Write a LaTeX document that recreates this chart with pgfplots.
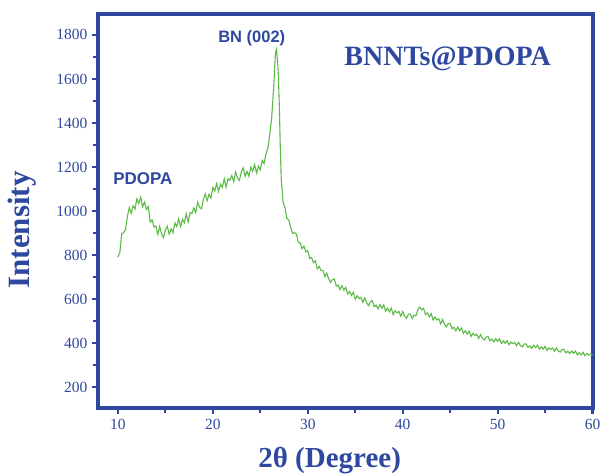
\documentclass[border=0pt]{standalone}
\usepackage{pgfplots}
\pgfplotsset{compat=1.18}
\usepackage{fontspec}
\setmainfont{Liberation Serif}
\newfontfamily\arialfont{Liberation Sans}
\definecolor{axblue}{RGB}{46,72,160}
\definecolor{xrdgreen}{RGB}{92,186,70}
\pgfplotstableread{
x y
10.0 790
10.2 812
10.4 897
10.6 901
10.8 916
11.0 976
11.2 1016
11.4 990
11.6 1024
11.8 1009
12.0 1055
12.2 1034
12.4 1063
12.6 1019
12.8 1040
13.0 1007
13.2 1020
13.4 950
13.6 960
13.8 927
14.0 932
14.2 894
14.4 930
14.6 896
14.8 879
15.0 914
15.2 931
15.4 895
15.6 919
15.8 901
16.0 945
16.2 929
16.4 965
16.6 929
16.8 962
17.0 947
17.2 987
17.4 950
17.6 993
17.8 989
18.0 1014
18.2 992
18.4 1040
18.6 1017
18.8 1010
19.0 1053
19.2 1078
19.4 1047
19.6 1076
19.8 1059
20.0 1107
20.2 1090
20.4 1125
20.6 1089
20.8 1122
21.0 1107
21.2 1146
21.4 1107
21.6 1147
21.8 1139
22.0 1161
22.2 1133
22.4 1177
22.6 1150
22.8 1139
23.0 1178
23.2 1196
23.4 1158
23.6 1180
23.8 1158
24.0 1199
24.2 1179
24.4 1211
24.6 1173
24.8 1204
25.0 1187
25.2 1230
25.4 1215
25.6 1260
25.8 1285
26.0 1350
26.2 1425
26.4 1555
26.5 1640
26.6 1720
26.7 1735
26.8 1690
26.9 1620
27.0 1480
27.1 1300
27.2 1150
27.4 1040
27.6 1015
27.8 967
28.0 959
28.2 925
28.4 898
28.6 902
28.8 896
29.0 857
29.2 855
29.4 828
29.6 840
29.8 814
30.0 820
30.2 784
30.4 789
30.6 765
30.8 774
31.0 737
31.2 748
31.4 730
31.6 730
31.8 702
32.0 718
32.2 692
32.4 675
32.6 689
32.8 691
33.0 659
33.2 664
33.4 643
33.6 660
33.8 640
34.0 653
34.2 623
34.4 634
34.6 616
34.8 631
35.0 599
35.2 615
35.4 602
35.6 608
35.8 585
36.0 605
36.2 583
36.4 570
36.6 587
36.8 593
37.0 565
37.2 573
37.4 555
37.6 575
37.8 558
38.0 573
38.2 545
38.4 558
38.6 542
38.8 559
39.0 529
39.2 547
39.4 537
39.6 544
39.8 522
40.0 543
40.2 523
40.4 512
40.6 531
40.8 532
41.0 512
41.2 527
41.4 524
41.6 552
41.8 564
42.0 551
42.2 558
42.4 529
42.6 537
42.8 519
43.0 534
43.2 505
43.4 518
43.6 505
43.8 510
44.0 487
44.2 507
44.4 485
44.6 474
44.8 489
45.0 488
45.2 465
45.4 472
45.6 455
45.8 473
46.0 456
46.2 469
46.4 444
46.6 456
46.8 441
47.0 454
47.2 430
47.4 444
47.6 434
47.8 440
48.0 421
48.2 438
48.4 422
48.6 414
48.8 428
49.0 429
49.2 410
49.4 418
49.6 405
49.8 420
50.0 407
50.2 419
50.4 398
50.6 410
50.8 399
51.0 411
51.2 392
51.4 404
51.6 397
51.8 403
52.0 388
52.2 403
52.4 389
52.6 382
52.8 396
53.0 396
53.2 380
53.4 387
53.6 376
53.8 390
54.0 379
54.2 390
54.4 372
54.6 383
54.8 372
55.0 385
55.2 367
55.4 378
55.6 371
55.8 378
56.0 363
56.2 378
56.4 364
56.6 359
56.8 371
57.0 371
57.2 355
57.4 363
57.6 352
57.8 364
58.0 354
58.2 364
58.4 346
58.6 357
58.8 346
59.0 358
59.2 342
59.4 353
59.6 346
59.8 351
60.0 345
}\xrd
\begin{document}
\begin{tikzpicture}
\begin{axis}[
  scale only axis,
  width=495pt, height=394pt,
  xmin=7.9, xmax=60.05, ymin=105, ymax=1895,
  xtick={10,20,30,40,50,60},
  ytick={200,400,600,800,1000,1200,1400,1600,1800},
  minor x tick num=1, minor y tick num=1,
  xtick pos=bottom, ytick pos=left,
  tick align=outside,
  major tick length=6pt, minor tick length=5pt,
  every tick/.style={axblue, line width=2.2pt},
  axis line style={axblue, line width=3.2pt},
  tick label style={axblue, font=\fontsize{15.5}{17}\selectfont},
  /pgf/number format/assume math mode=true,
  /pgf/number format/1000 sep={},
  yticklabel style={xshift=-1pt},
  xticklabel style={yshift=-2pt},
  clip=false,
]
\addplot[xrdgreen, line width=1.1pt] table[x=x,y=y] {\xrd};
\node[axblue, font=\arialfont\bfseries\fontsize{17}{20}\selectfont] at (axis cs:12.63,1145) {PDOPA};
\node[axblue, font=\arialfont\bfseries\fontsize{16.5}{20}\selectfont] at (axis cs:24.1,1786) {BN (002)};
\node[axblue, font=\bfseries\fontsize{28}{32}\selectfont] at (axis cs:44.74,1690) {BNNTs@PDOPA};
\node[axblue, font=\bfseries\fontsize{29}{32}\selectfont] at (axis cs:32.3,-132) {2θ (Degree)};
\node[axblue, font=\bfseries\fontsize{31}{34}\selectfont, rotate=90] at (axis cs:-0.1,914) {Intensity};
\end{axis}
\pgfresetboundingbox
\path ([shift={(-98pt,-67pt)}]current axis.south west) rectangle ([shift={(10pt,14pt)}]current axis.north east);
\end{tikzpicture}
\end{document}
